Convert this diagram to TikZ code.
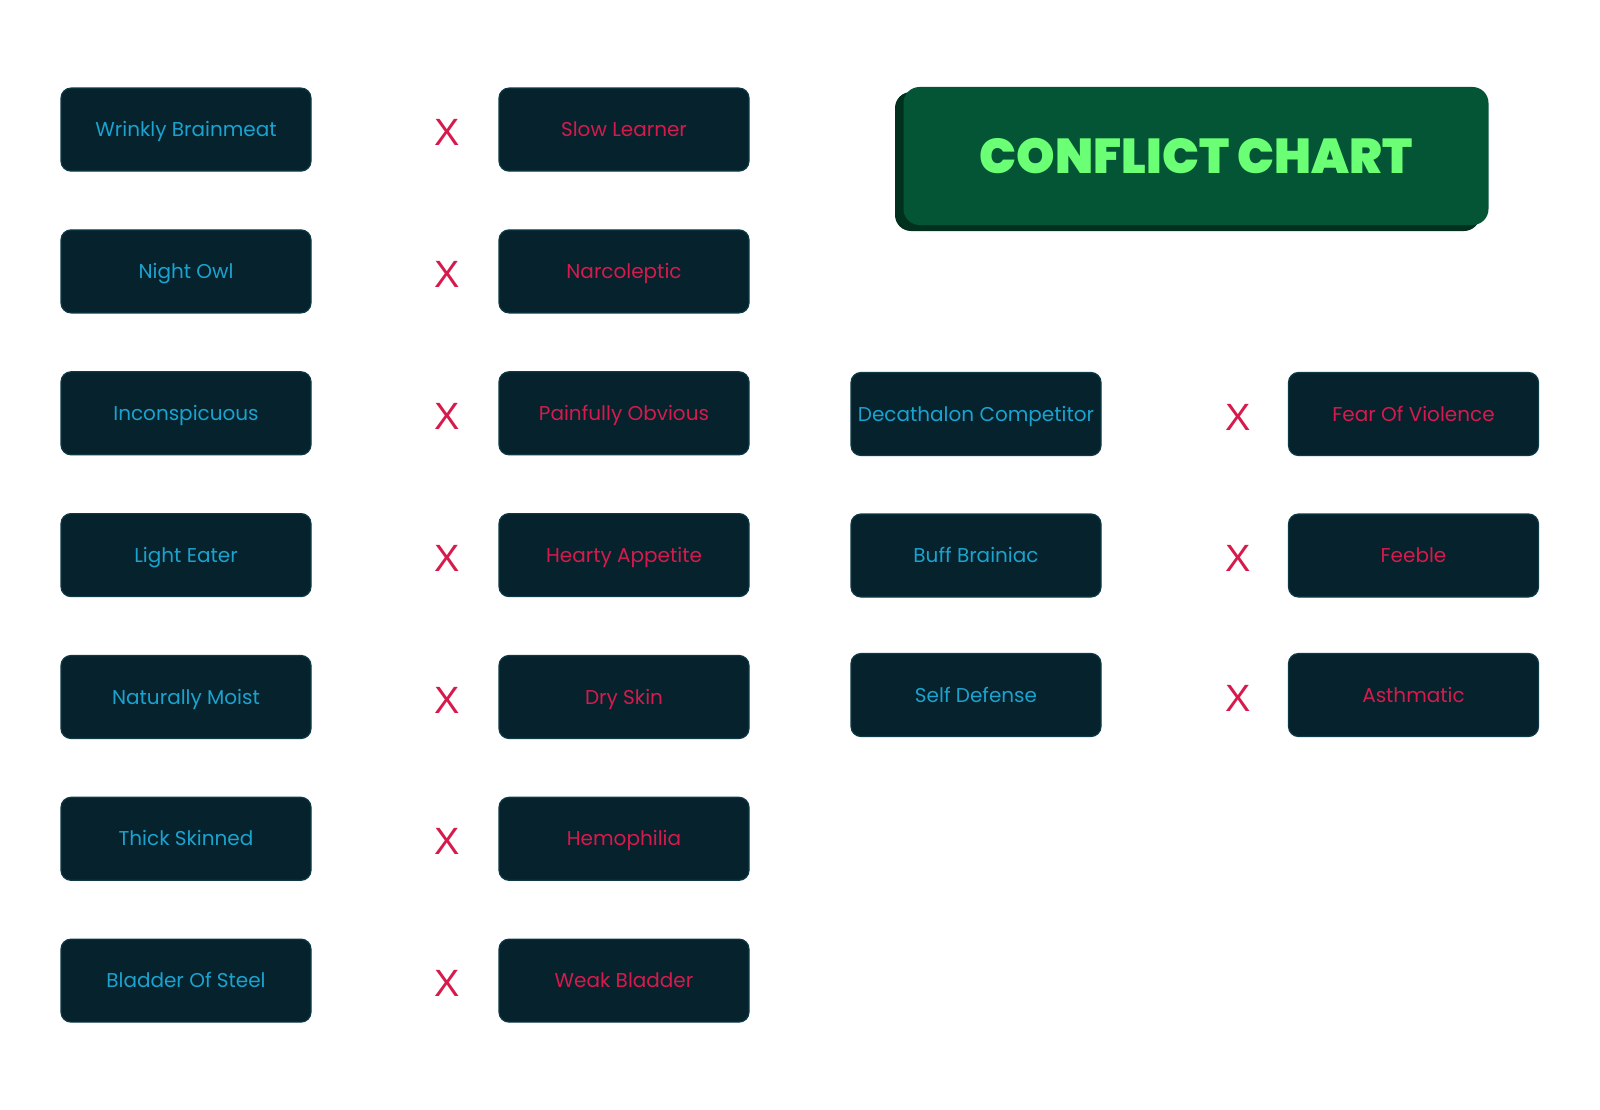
\documentclass[tikz,border=0pt]{standalone}
\usepackage{fontspec}
\setmainfont{Poppins}
\newfontfamily\titlefont{Poppins Black}
\newfontfamily\xfont{Liberation Sans}
\definecolor{boxfill}{HTML}{05222D}
\definecolor{boxline}{HTML}{0E3A48}
\definecolor{cyantext}{HTML}{1AA3CF}
\definecolor{redtext}{HTML}{D71A4C}
\definecolor{titlefill}{HTML}{035535}
\definecolor{titleshadow}{HTML}{02301E}
\definecolor{titletext}{HTML}{6AFF75}
\begin{document}
\begin{tikzpicture}[x=1pt,y=-1pt,
  trait/.style={draw=boxline, line width=1.2pt, fill=boxfill, rounded corners=10pt,
    minimum width=250pt, minimum height=83pt, inner sep=0pt,
    text height=14pt, text depth=0pt,
    font=\fontsize{20}{20}\selectfont},
  good/.style={trait, text=cyantext},
  bad/.style={trait, text=redtext},
  xmark/.style={text=redtext, font=\xfont\fontsize{38}{38}\selectfont, inner sep=0pt}]
\useasboundingbox (0,0) rectangle (1600,1110);
% title
\fill[titleshadow, rounded corners=16pt] (895,92) rectangle (1480,231);
\node[fill=titlefill, rounded corners=16pt, minimum width=585pt, minimum height=138pt, inner sep=0pt,
  text=titletext, font=\titlefont\fontsize{49}{49}\selectfont] (title) at (1196,156) {CONFLICT CHART};
% left group
\foreach \i/\a/\b [count=\n] in {
  129.6/Wrinkly Brainmeat/Slow Learner,
  271.4/Night Owl/Narcoleptic,
  413.3/Inconspicuous/Painfully Obvious,
  555.1/Light Eater/Hearty Appetite,
  697/Naturally Moist/Dry Skin,
  838.8/Thick Skinned/Hemophilia,
  980.6/Bladder Of Steel/Weak Bladder}{
  \node[good] (l\n) at (186,\i) {\a};
  \node[bad] (r\n) at (624,\i) {\b};
  \node[xmark] (x\n) at (447,\i+3) {X};
}
% right group
\foreach \i/\a/\b [count=\n] in {
  414/Decathalon Competitor/Fear Of Violence,
  555.5/Buff Brainiac/Feeble,
  695/Self Defense/Asthmatic}{
  \node[good] (L\n) at (976,\i) {\a};
  \node[bad] (R\n) at (1413.5,\i) {\b};
  \node[xmark] (X\n) at (1238,\i+3) {X};
}
\end{tikzpicture}
\end{document}
